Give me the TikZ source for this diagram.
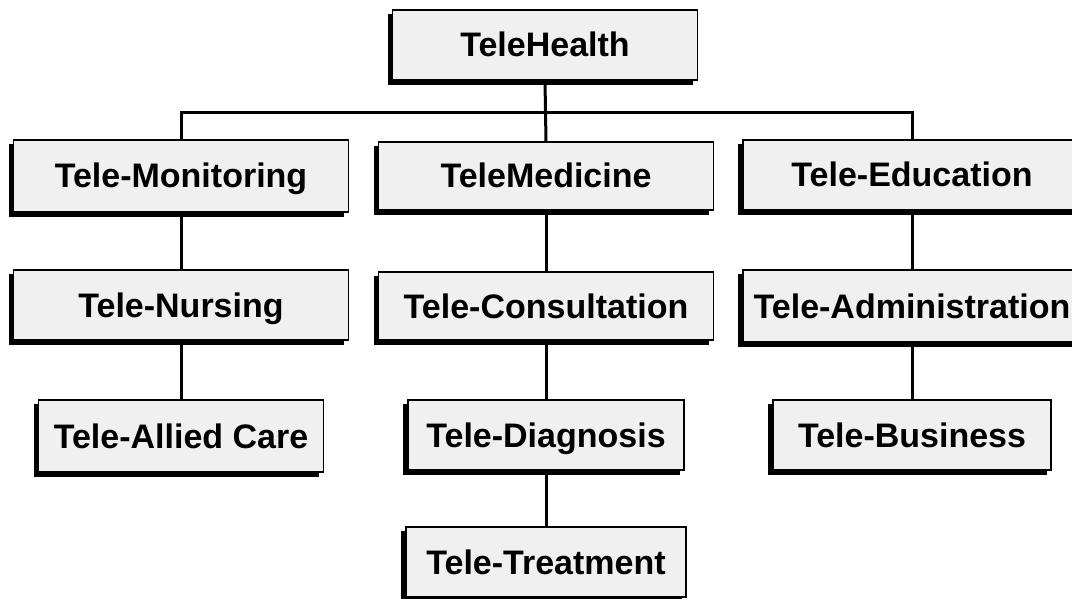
\documentclass[tikz,border=0pt]{standalone}
\usepackage{fontspec}
\setmainfont{Liberation Sans}
\usepackage{tikz}
\usetikzlibrary{calc}
\tikzset{box/.style={draw, line width=1.2pt, fill=black!6, inner sep=0pt,
    minimum height=70, text height=24pt, text depth=0pt,
    font=\fontsize{34}{36}\selectfont\bfseries},
  shadowline/.style={line width=4pt},
  link/.style={line width=3pt}}

\begin{document}
\begin{tikzpicture}[x=1pt, y=-1pt]
        \useasboundingbox (0, 0) rectangle (1072, 599);
        \node (thealth) at (545, 45) [box, minimum width=305] {TeleHealth};
        \node (tmon) at (181, 176) [box, minimum width=335, minimum height=72] {Tele-Monitoring};
        \node (tmed) at (546, 176) [box, minimum width=335, minimum height=68] {TeleMedicine};
        \node (tedu) at (912, 175) [box, minimum width=338] {Tele-Education};
        \node (tnur) at (181, 305) [box, minimum width=335] {Tele-Nursing};
        \node (tcon) at (546, 306) [box, minimum width=335, minimum height=68] {Tele-Consultation};
        \node (tadm) at (912, 306) [box, minimum width=338, minimum height=72] {Tele-Administration};
        \node (tall) at (181, 436) [box, minimum width=285, minimum height=72] {Tele-Allied Care};
        \node (tdia) at (546, 435) [box, minimum width=276] {Tele-Diagnosis};
        \node (tbus) at (912, 435) [box, minimum width=278] {Tele-Business};
        \node (ttre) at (546, 562) [box, minimum width=280] {Tele-Treatment};
        \foreach \n in {thealth, tmon, tmed, tedu, tnur, tcon, tadm, tall, tdia, tbus, ttre}
          \draw [shadowline] ([shift={(-2, 5)}]\n.north west) |- ([shift={(-5, 2)}]\n.south east);
        \coordinate (bar) at (546, 113);
        \draw [link] (thealth.south) -- (tmed.north);
        \draw [link] (tmon.north) |- (bar) -| (tedu.north);
        \draw [link] (tmon.south)--(tnur.north);
        \draw [link] (tnur.south)--(tall.north);
        \draw [link] (tmed.south)--(tcon.north);
        \draw [link] (tcon.south)--(tdia.north);
        \draw [link] (tdia.south)--(ttre.north);
        \draw [link] (tedu.south)--(tadm.north);
        \draw [link] (tadm.south)--(tbus.north);
      \end{tikzpicture}
\end{document}
